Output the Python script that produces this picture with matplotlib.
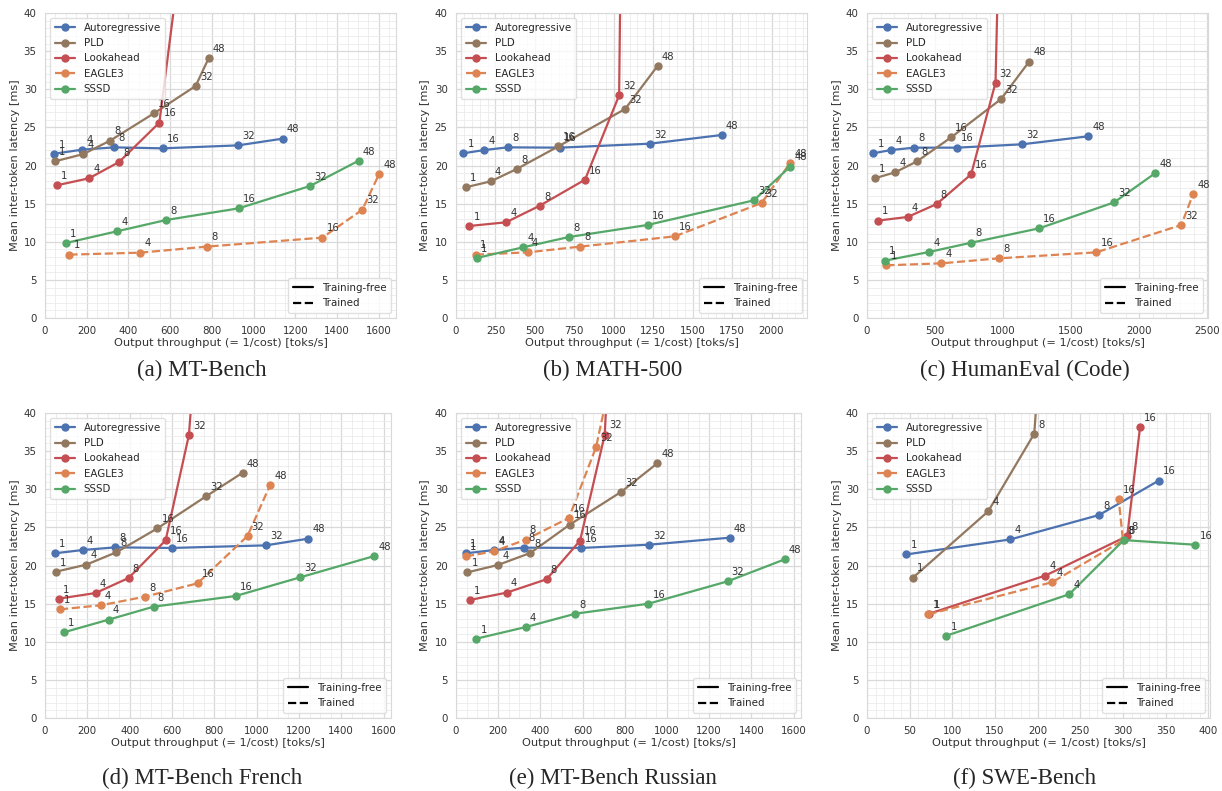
"""Latency vs throughput curves for the six speculative decoding benchmarks."""
import matplotlib
matplotlib.use("Agg")
import matplotlib.pyplot as plt
import seaborn as sns
from matplotlib.lines import Line2D
from matplotlib.ticker import AutoMinorLocator, MultipleLocator

METHODS = ["Autoregressive", "PLD", "Lookahead", "EAGLE3", "SSSD"]
BUDGETS = [1, 4, 8, 16, 32, 48]
SWE_BUDGETS = [1, 4, 8, 16]

# throughput [toks/s] and latency [ms] per method; points past 40 ms leave the frame
mt_x = {
    "Autoregressive": [45, 179, 332, 565, 925, 1139],
    "PLD": [48, 184, 312, 522, 722, 784],
    "Lookahead": [56, 211, 355, 548, 685],
    "EAGLE3": [117, 457, 775, 1329, 1521, 1601],
    "SSSD": [101, 345, 580, 928, 1270, 1503],
}
mt_y = {
    "Autoregressive": [21.55, 22.08, 22.38, 22.25, 22.64, 23.52],
    "PLD": [20.55, 21.5, 23.26, 26.84, 30.43, 34.06],
    "Lookahead": [17.4, 18.32, 20.46, 25.62, 55],
    "EAGLE3": [8.31, 8.57, 9.36, 10.54, 14.21, 18.89],
    "SSSD": [9.84, 11.37, 12.85, 14.38, 17.31, 20.63],
}

math_x = {
    "Autoregressive": [46, 180, 328, 660, 1228, 1685],
    "PLD": [61, 220, 385, 649, 1072, 1279],
    "Lookahead": [85, 317, 531, 818, 1034, 1048],
    "EAGLE3": [125, 455, 786, 1387, 1937, 2118],
    "SSSD": [131, 425, 715, 1214, 1888, 2118],
}
math_y = {
    "Autoregressive": [21.6, 22.03, 22.38, 22.34, 22.86, 24.0],
    "PLD": [17.14, 17.92, 19.54, 22.51, 27.41, 33.09],
    "Lookahead": [12.07, 12.55, 14.73, 18.14, 29.2, 55],
    "EAGLE3": [8.31, 8.61, 9.36, 10.71, 15.08, 20.33],
    "SSSD": [7.87, 9.27, 10.62, 12.2, 15.43, 19.85],
}

code_x = {
    "Autoregressive": [47, 176, 348, 662, 1140, 1625],
    "PLD": [56, 206, 368, 618, 985, 1191],
    "Lookahead": [78, 299, 512, 765, 944, 976],
    "EAGLE3": [142, 547, 973, 1684, 2309, 2395],
    "SSSD": [132, 456, 767, 1265, 1816, 2115],
}
code_y = {
    "Autoregressive": [21.6, 22.03, 22.34, 22.34, 22.78, 23.83],
    "PLD": [18.32, 19.1, 20.55, 23.69, 28.72, 33.62],
    "Lookahead": [12.77, 13.25, 14.95, 18.84, 30.86, 55],
    "EAGLE3": [6.91, 7.17, 7.83, 8.61, 12.2, 16.22],
    "SSSD": [7.52, 8.66, 9.88, 11.76, 15.17, 18.97],
}

fr_x = {
    "Autoregressive": [46, 178, 332, 598, 1043, 1244],
    "PLD": [52, 195, 337, 531, 761, 934],
    "Lookahead": [65, 239, 395, 570, 680, 743],
    "EAGLE3": [71, 263, 472, 721, 957, 1063],
    "SSSD": [88, 301, 513, 901, 1206, 1557],
}
fr_y = {
    "Autoregressive": [21.6, 22.03, 22.38, 22.3, 22.64, 23.52],
    "PLD": [19.19, 20.11, 21.73, 24.87, 29.07, 32.17],
    "Lookahead": [15.65, 16.39, 18.36, 23.3, 37.11, 60],
    "EAGLE3": [14.25, 14.78, 15.91, 17.66, 23.87, 30.51],
    "SSSD": [11.23, 12.9, 14.6, 16.0, 18.45, 21.25],
}

ru_x = {
    "Autoregressive": [47, 181, 323, 593, 916, 1298],
    "PLD": [54, 199, 352, 539, 784, 954],
    "Lookahead": [66, 240, 429, 588, 705, 745],
    "EAGLE3": [47, 180, 330, 535, 664, 760],
    "SSSD": [96, 331, 566, 912, 1287, 1558],
}
ru_y = {
    "Autoregressive": [21.6, 22.03, 22.34, 22.3, 22.73, 23.65],
    "PLD": [19.1, 20.07, 21.64, 25.36, 29.68, 33.4],
    "Lookahead": [15.48, 16.44, 18.19, 23.26, 37.16, 60],
    "EAGLE3": [21.2, 21.86, 23.39, 26.23, 35.54, 48],
    "SSSD": [10.4, 11.93, 13.68, 14.99, 17.92, 20.81],
}

swe_x = {
    "Autoregressive": [46, 168, 272, 342],
    "PLD": [54, 142, 196, 201],
    "Lookahead": [73, 209, 305, 320],
    "EAGLE3": [72, 217, 300, 295],
    "SSSD": [93, 237, 301, 385],
}
swe_y = {
    "Autoregressive": [21.45, 23.42, 26.62, 31.14],
    "PLD": [18.42, 27.1, 37.28, 45],
    "Lookahead": [13.68, 18.68, 23.86, 38.16],
    "EAGLE3": [13.6, 17.81, 23.29, 28.68],
    "SSSD": [10.79, 16.23, 23.33, 22.72],
}

sns.set_style("whitegrid")
pal = sns.color_palette("deep")
COLORS = {"Autoregressive": pal[0], "PLD": pal[5], "Lookahead": pal[3],
          "EAGLE3": pal[1], "SSSD": pal[2]}
plt.rcParams["font.family"] = ["DejaVu Sans"]

W, H = 1222, 791
fig = plt.figure(figsize=(W / 100, H / 100), dpi=100)


def px_axes(left, top, right, bottom):
    return fig.add_axes([left / W, 1 - bottom / H, (right - left) / W, (bottom - top) / H])


def draw_panel(ax, xs, ys, budgets, xmax, xstep, caption, cap_xy):
    for m in METHODS:
        ls = "--" if m == "EAGLE3" else "-"
        x, y = xs[m], ys[m]
        ax.plot(x, y, ls=ls, marker="o", ms=5, lw=1.6, color=COLORS[m], label=m)
        for b, xi, yi in zip(budgets, x, y):
            ax.annotate(str(b), (xi, yi), xytext=(3, 3), textcoords="offset points",
                        fontsize=7.2, color=".2", ha="left", va="bottom")
    ax.set_xlim(0, xmax)
    ax.set_ylim(0, 40)
    ax.xaxis.set_major_locator(MultipleLocator(xstep))
    ax.yaxis.set_major_locator(MultipleLocator(5))
    ax.xaxis.set_minor_locator(AutoMinorLocator())
    ax.yaxis.set_minor_locator(AutoMinorLocator())
    ax.grid(which="major", color=".85", lw=0.9)
    ax.grid(which="minor", color=".92", lw=0.6)
    ax.tick_params(labelsize=7.4, pad=2.5, colors=".2")
    for s in ax.spines.values():
        s.set_color(".85")
    ax.set_xlabel("Output throughput (= 1/cost) [toks/s]", fontsize=8.2, labelpad=1, color=".2")
    ax.set_ylabel("Mean inter-token latency [ms]", fontsize=8.2, labelpad=3, color=".2")

    leg = ax.legend(loc="upper left", fontsize=7.4, frameon=True, framealpha=0.8,
                    edgecolor=".85", borderpad=0.45, labelspacing=0.52)
    ax.add_artist(leg)
    style_handles = [Line2D([], [], color="black", ls="-", lw=1.6),
                     Line2D([], [], color="black", ls="--", lw=1.6)]
    ax.legend(style_handles, ["Training-free", "Trained"], loc="lower right",
              fontsize=7.4, frameon=True, framealpha=0.8, edgecolor=".85",
              borderpad=0.45, labelspacing=0.52)
    fig.text(cap_xy[0] / W, 1 - cap_xy[1] / H, caption, ha="center", va="center",
             fontsize=16.5, family="Liberation Serif")


draw_panel(px_axes(45, 13, 396, 318), mt_x, mt_y, BUDGETS, 1682, 200,
           "(a) MT-Bench", (202, 370))
draw_panel(px_axes(456, 13, 807, 318), math_x, math_y, BUDGETS, 2225, 250,
           "(b) MATH-500", (613, 370))
draw_panel(px_axes(867, 13, 1208, 318), code_x, code_y, BUDGETS, 2505, 500,
           "(c) HumanEval (Code)", (1025, 370))
draw_panel(px_axes(45, 413, 391, 718), fr_x, fr_y, BUDGETS, 1635, 200,
           "(d) MT-Bench French", (202, 778))
draw_panel(px_axes(456, 413, 801, 718), ru_x, ru_y, BUDGETS, 1635, 200,
           "(e) MT-Bench Russian", (613, 778))
draw_panel(px_axes(867, 413, 1210, 718), swe_x, swe_y, SWE_BUDGETS, 402, 50,
           "(f) SWE-Bench", (1025, 778))

fig.savefig("out.png", dpi=100)
